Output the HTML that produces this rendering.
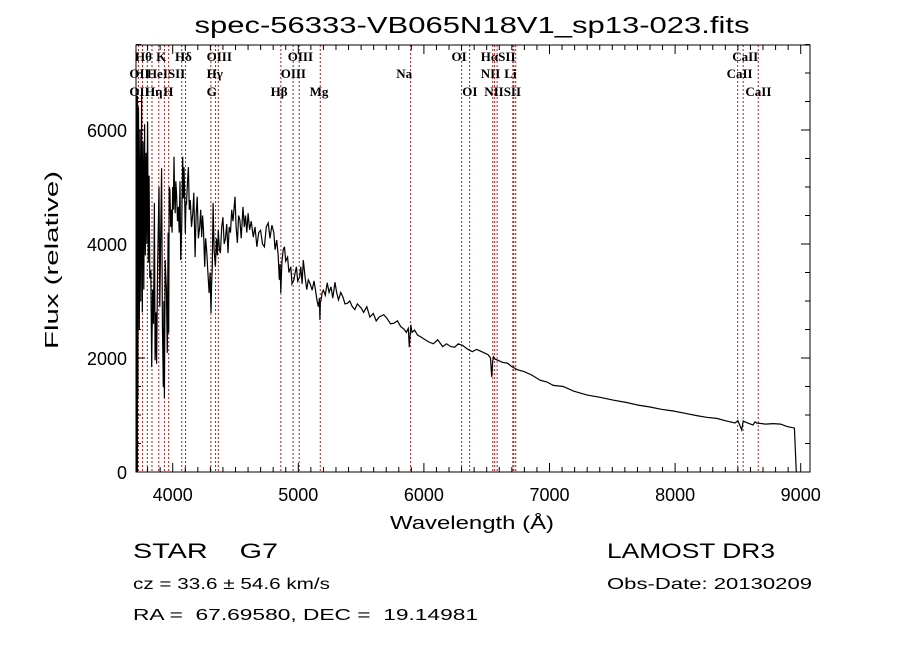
<!DOCTYPE html>
<html><head><meta charset="utf-8"><style>
html,body{margin:0;padding:0;background:#fff}
svg{display:block}
text{font-family:"Liberation Sans",sans-serif;fill:#000;white-space:pre}
.ser{font-family:"Liberation Serif",serif;font-weight:bold;font-size:13px}
</style></head><body>
<svg id="chart" width="900" height="649" viewBox="0 0 900 649" xmlns="http://www.w3.org/2000/svg" xml:space="preserve">
<rect width="900" height="649" fill="#fff"/>
<text x="472" y="33" font-size="23" text-anchor="middle" textLength="555" lengthAdjust="spacingAndGlyphs">spec-56333-VB065N18V1_sp13-023.fits</text>
<g id="lines"></g>
<g id="labels"></g>
<polyline id="spec" fill="none" stroke="#000" stroke-width="1.2"/>
<rect x="136" y="45" width="674" height="427" fill="none" stroke="#000" stroke-width="1"/>
<g id="ticks"></g>
<text x="472" y="529" font-size="18" text-anchor="middle" textLength="164" lengthAdjust="spacingAndGlyphs">Wavelength (Å)</text>
<text x="0" y="0" font-size="18" text-anchor="middle" transform="translate(58,260) rotate(-90)" textLength="178" lengthAdjust="spacingAndGlyphs">Flux (relative)</text>
<text x="133" y="558" font-size="21" textLength="145" lengthAdjust="spacingAndGlyphs">STAR    G7</text>
<text x="133" y="589" font-size="16" textLength="197" lengthAdjust="spacingAndGlyphs">cz = 33.6 ± 54.6 km/s</text>
<text x="133" y="620" font-size="16" textLength="345" lengthAdjust="spacingAndGlyphs">RA =  67.69580, DEC =  19.14981</text>
<text x="607" y="558" font-size="21" textLength="168" lengthAdjust="spacingAndGlyphs">LAMOST DR3</text>
<text x="607" y="589" font-size="16" textLength="205" lengthAdjust="spacingAndGlyphs">Obs-Date: 20130209</text>
</svg>
<script>
const wavelengths=[3712,3716,3722,3728,3734,3740,3746,3752,3758,3764,3770,3776,3782,3788,3794,3800,3806,3812,3818,3826,3833,3840,3847,3854,3860,3866,3872,3880,3891,3897,3905,3912,3918,3925,3930,3934,3940,3950,3957,3963,3968,3972,3978,3984,3990,3995,4000,4005,4010,4015,4020,4025,4030,4038,4045,4052,4058,4064,4072,4080,4085,4090,4095,4100,4105,4110,4118,4125,4132,4140,4150,4160,4168,4178,4186,4195,4205,4215,4223,4231,4238,4245,4255,4262,4270,4280,4290,4298,4305,4310,4315,4322,4330,4340,4348,4355,4363,4372,4380,4390,4400,4410,4420,4430,4440,4450,4460,4470,4480,4496,4505,4515,4525,4535,4545,4560,4570,4580,4590,4600,4612,4625,4642,4655,4670,4685,4700,4715,4730,4745,4760,4775,4790,4805,4815,4828,4840,4849,4855,4861,4866,4870,4880,4890,4900,4915,4925,4940,4950,4965,4975,4985,4995,5010,5020,5030,5040,5055,5068,5080,5095,5110,5125,5137,5150,5160,5168,5172,5176,5180,5190,5200,5215,5230,5245,5260,5275,5292,5305,5320,5338,5355,5372,5390,5410,5430,5450,5470,5500,5520,5545,5570,5597,5620,5645,5680,5705,5735,5760,5790,5815,5845,5860,5876,5884,5890,5896,5905,5925,5950,5975,6010,6040,6075,6110,6150,6180,6215,6245,6274,6310,6350,6385,6420,6460,6510,6530,6540,6548,6556,6565,6590,6630,6665,6700,6750,6800,6860,6925,6978,7030,7110,7190,7300,7402,7510,7614,7700,7800,7890,7986,8080,8172,8250,8331,8400,8477,8500,8530,8542,8555,8620,8636,8650,8720,8782,8840,8889,8950,8965,8972];
const fluxes=[0,5200,1300,6400,2500,6000,3000,6700,2800,5800,3200,6100,3800,5600,4000,6140,3670,5200,3400,3540,1840,3200,2600,4720,1960,2800,1900,3600,5000,2900,4300,5330,2600,1490,3000,1300,3720,3200,2090,4200,2440,5000,4950,4300,4600,4200,5000,4600,5530,4800,4540,5100,4900,4400,4650,4200,5100,3720,4300,5530,4800,5350,4900,4190,4700,4700,5100,5350,4600,4770,4300,4540,4900,3770,4500,4830,4100,4300,4600,4120,4500,4240,3600,4100,3900,3500,3140,3500,2790,3300,3600,4720,3900,3600,4100,3800,4240,3900,3840,4300,4470,4000,4100,4350,3840,4300,4200,4600,4400,4830,4300,4020,4500,4420,4100,4650,4300,4500,4200,4540,4250,4400,4120,4300,3950,4200,4240,4000,3950,4300,4370,4100,4330,4200,3900,4070,3800,3370,3650,3140,3500,3700,3900,3950,3700,3770,3500,3600,3300,3370,3500,3600,3350,3420,3600,3300,3720,3400,3200,3370,3300,3190,3350,3190,3000,2900,3050,2670,3000,3000,3150,3190,3100,3320,3150,3250,3050,3330,3150,3020,3150,3070,2950,2960,3000,2900,2850,2950,2880,2800,2900,2720,2780,2650,2720,2760,2700,2600,2610,2650,2550,2500,2450,2520,2190,2400,2580,2450,2490,2400,2370,2320,2280,2250,2320,2200,2250,2200,2190,2250,2220,2150,2110,2150,2110,2060,2000,1670,1950,2020,1980,1960,1920,1910,1850,1790,1760,1700,1610,1580,1520,1500,1420,1350,1310,1260,1220,1175,1140,1100,1070,1030,990,960,940,900,860,900,740,895,880,825,880,860,840,850,840,800,770,0];
const lineWaves=[3727,3760,3798,3835,3889,3934,3968,4072,4102,4304,4341,4363,4861,4959,5007,5175,5894,6300,6364,6548,6563,6583,6708,6716,6731,8498,8542,8662];
const labelTexts=["Hθ","K","Hδ","OIII","OIII","OI","HαSII","CaII","OII","HeISII","Hγ","OIII","Na","NII","Li","CaII","OII","Hη","H","G","Hβ","Mg","OI","NIISII","CaII"];
const labelWaves=[3700,3868,4018,4270,4916,6220,6453,8455,3655,3795,4270,4860,5780,6453,6640,8410,3655,3780,3925,4270,4780,5090,6305,6480,8560];
const labelRows=[0,0,0,0,0,0,0,0,1,1,1,1,1,1,1,1,2,2,2,2,2,2,2,2,2];
const xTicks=[4000,5000,6000,7000,8000,9000];
const yTicks=[0,2000,4000,6000];
const NS="http://www.w3.org/2000/svg";
const X=l=>172.7+(l-4000)*0.1256;
const Y=f=>472-f*0.057;
function mk(t,a,p){const e=document.createElementNS(NS,t);for(const k in a)e.setAttribute(k,a[k]);p.appendChild(e);return e;}
document.getElementById('spec').setAttribute('points',wavelengths.map((w,i)=>X(w).toFixed(1)+','+Y(fluxes[i]).toFixed(1)).join(' '));
const lg=document.getElementById('lines');
lineWaves.forEach(w=>{const e=mk('line',{x1:X(w),x2:X(w),y1:45,y2:472,stroke:'#b01c1c','stroke-width':1,'stroke-dasharray':'2,2'},lg);

});
const lb=document.getElementById('labels');const rowY=[61,78,96];
labelTexts.forEach((t,i)=>{const e=mk('text',{x:X(labelWaves[i]),y:rowY[labelRows[i]],class:'ser'},lb);e.textContent=t;

});
const tg=document.getElementById('ticks');
for(let l=3800;l<=9100;l+=100){const x=X(l);if(x<136||x>810)continue;const big=l%1000===0;const h=big?9:5;
mk('line',{x1:x,x2:x,y1:472,y2:472-h,stroke:'#000'},tg);mk('line',{x1:x,x2:x,y1:45,y2:45+h,stroke:'#000'},tg);}
for(let f=0;f<=7500;f+=500){const y=Y(f);const big=f%2000===0;const h=big?9:5;
mk('line',{x1:136,x2:136+h,y1:y,y2:y,stroke:'#000'},tg);mk('line',{x1:810,x2:810-h,y1:y,y2:y,stroke:'#000'},tg);}
xTicks.forEach(v=>{const e=mk('text',{x:X(v),y:501,'font-size':18,'text-anchor':'middle'},tg);e.textContent=v;

});
yTicks.forEach(v=>{const e=mk('text',{x:127,y:Y(v)+7,'font-size':18,'text-anchor':'end'},tg);e.textContent=v;

});
mk('line',{x1:137,x2:137,y1:472,y2:Y(6600),stroke:'#000','stroke-width':2},document.getElementById('chart'));
</script>
</body></html>
